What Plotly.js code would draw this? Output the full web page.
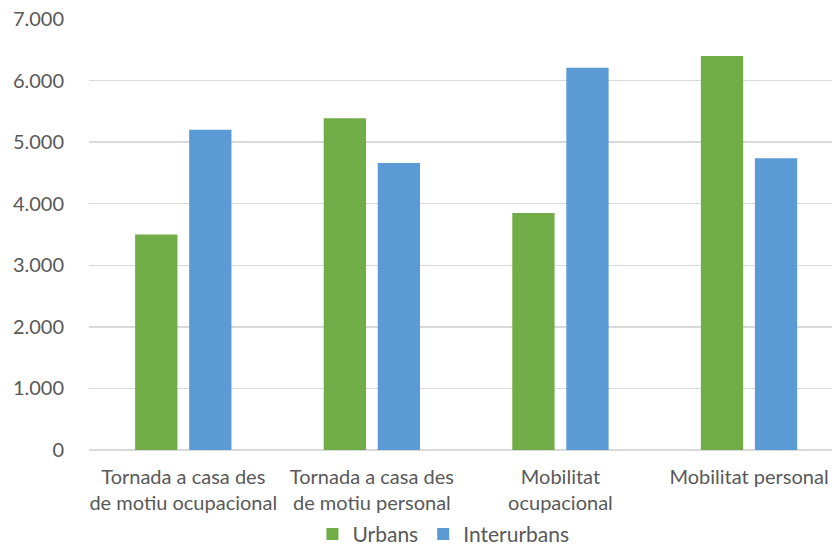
<!DOCTYPE html>
<html>
<head>
<meta charset="utf-8">
<script src="https://cdn.plot.ly/plotly-3.0.1.min.js"></script>
<style>html,body{margin:0;padding:0;background:#fff;}#chart{width:832px;height:548px;}</style>
</head>
<body>
<div id="chart"></div>
<script>
const categories = ["Tornada a casa des<br>de motiu ocupacional", "Tornada a casa des<br>de motiu personal", "Mobilitat<br>ocupacional", "Mobilitat personal"];
const urbans = [3500, 5390, 3850, 6400];
const interurbans = [5200, 4660, 6210, 4740];
const yTicks = [0, 1000, 2000, 3000, 4000, 5000, 6000, 7000];

const font = "Lato, 'Open Sans', sans-serif";
const textColor = "#595959";

const data = [
  {type: "bar", name: "Urbans", x: categories, y: urbans, marker: {color: "#70AD47"}},
  {type: "bar", name: "Interurbans", x: categories, y: interurbans, marker: {color: "#5B9BD5"}}
];

const layout = {
  width: 832, height: 548,
  margin: {l: 89, r: 0, t: 19, b: 98, autoexpand: false},
  paper_bgcolor: "#fff", plot_bgcolor: "#fff",
  separators: ",.",
  font: {family: font, size: 20, color: textColor},
  barmode: "group",
  bargap: 0.427,
  bargroupgap: 0.217,
  showlegend: true,
  legend: {orientation: "h", x: 0.477, xanchor: "center", y: -0.148, yanchor: "top", bgcolor: "rgba(0,0,0,0)", font: {size: 21, color: textColor}, itemwidth: 30, tracegroupgap: 0},
  xaxis: {type: "category", range: [-0.5, 3.44], automargin: false, showgrid: false, zeroline: false, showline: false, ticks: "outside", ticklen: 9, tickcolor: "rgba(0,0,0,0)", tickfont: {size: 20, color: textColor}},
  yaxis: {range: [0, 7000], automargin: false, tickvals: yTicks, tickformat: ",.0f", showgrid: true, gridcolor: "#D9D9D9", gridwidth: 1.5, zeroline: true, zerolinecolor: "#D9D9D9", zerolinewidth: 1.5, showline: false, ticks: "outside", ticklen: 20, tickcolor: "rgba(0,0,0,0)", tickfont: {size: 20, color: textColor}}
};

Plotly.newPlot("chart", data, layout, {displayModeBar: false, staticPlot: true});
</script>
</body>
</html>
